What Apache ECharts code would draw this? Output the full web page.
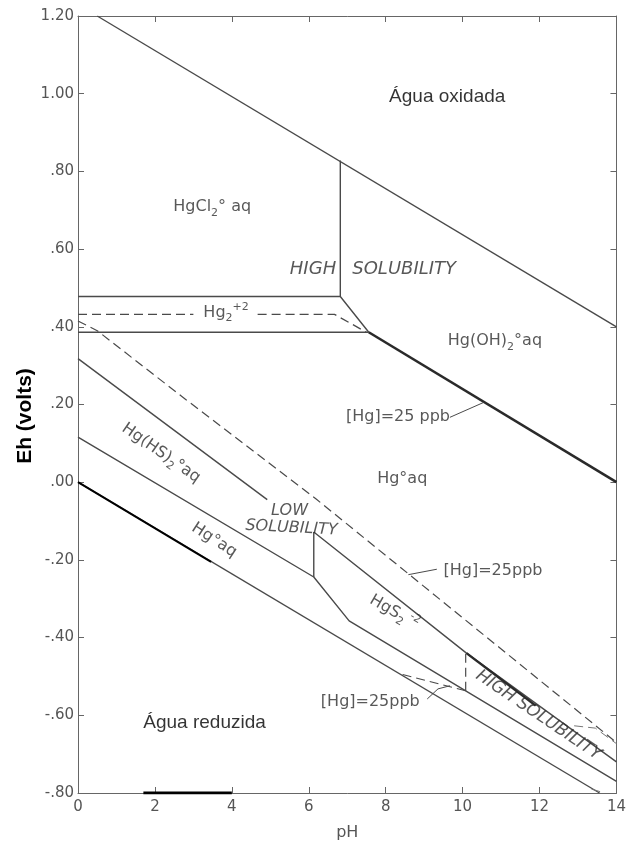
<!DOCTYPE html>
<html>
<head>
<meta charset="utf-8">
<title>Eh-pH Hg</title>
<script src="https://cdn.jsdelivr.net/npm/echarts@6/dist/echarts.min.js"></script>
<style>
  html, body { margin: 0; padding: 0; background: #fff; }
  #chart { width: 629px; height: 850px; }
</style>
</head>
<body>
<div id="chart"></div>
<script>
// eixos
const phTicks = [0, 2, 4, 6, 8, 10, 12, 14]
const ehTickLabels = ['-.80', '-.60', '-.40', '-.20', '.00', '.20', '.40', '.60', '.80', '1.00', '1.20']

// linhas [pH, Eh]
const aguaOxidada = [[0.5, 1.20], [14, 0.40]]
const aguaReduzida = [[0, 0.0], [13.56, -0.80]]
const aguaReduzidaPreta = [[0, 0.0], [3.46, -0.205]]
const barraPreta = [[1.7, -0.80], [4.0, -0.80]]
const verticalHgCl2 = [[6.82, 0.828], [6.82, 0.478]]
const limiteSuperior = [[0, 0.478], [6.82, 0.478], [7.56, 0.386]]
const limiteInferior = [[0, 0.386], [7.56, 0.386]]
const hg2Esq = [[0, 0.432], [3.0, 0.432]]
const hg2Dir = [[4.67, 0.432], [6.67, 0.432], [7.5, 0.386]]
const hgOH2 = [[7.56, 0.386], [14, 0.0]]
const ppbSupGuia = [[9.67, 0.167], [10.54, 0.205]]
const ppbMeio = [[0, 0.415], [0.5, 0.39], [2.8, 0.213], [6.2, -0.044], [14, -0.67]]
const ppbMeioGuia = [[8.59, -0.238], [9.33, -0.224]]
const hsEsq = [[0, 0.318], [4.92, -0.045]]
const hsDir = [[6.13, -0.128], [10.1, -0.44], [14, -0.72]]
const hsGrosso = [[10.1, -0.44], [11.9, -0.575]]
const vertical6 = [[6.13, -0.128], [6.13, -0.244]]
const hgS2Inf = [[0, 0.116], [6.13, -0.244], [7.05, -0.357], [14, -0.77]]
const ppbInf = [[8.44, -0.495], [10.08, -0.537]]
const ppbInfVert = [[10.08, -0.537], [10.08, -0.44]]
const ppbInfGuia = [[9.08, -0.558], [9.36, -0.532], [9.67, -0.524]]
const tracoDir = [[12.9, -0.627], [13.45, -0.633], [14, -0.673]]
const tracoCanto = [[13.35, -0.79], [13.7, -0.80]]

const LINE = '#4a4a4a'
const TEXT = '#2e2e2e'
const FONT = 'DejaVu Sans'

function linha(data, width, color, dashed) {
  return {
    type: 'line', data: data, symbol: 'none', silent: true, animation: false,
    lineStyle: { color: color || LINE, width: width || 1.4, type: dashed ? [9, 5] : 'solid' },
    z: 3
  }
}

const rich = {
  sub: { fontFamily: FONT, fontSize: 11, lineHeight: 12, verticalAlign: 'bottom', color: TEXT },
  sup: { fontFamily: FONT, fontSize: 11, lineHeight: 12, verticalAlign: 'top', color: TEXT }
}
function rotulo(pos, text, extra) {
  return {
    value: pos,
    label: Object.assign({
      show: true, position: 'inside', formatter: text,
      fontFamily: FONT, fontSize: 16, lineHeight: 22, color: TEXT, rich: rich
    }, extra || {})
  }
}
const caps = { fontStyle: 'italic', fontSize: 18 }
const preto = { fontFamily: 'Liberation Sans', fontSize: 19, color: '#000' }

const rotulos = [
  rotulo([9.6, 0.991], 'Água oxidada', preto),
  rotulo([3.29, -0.618], 'Água reduzida', preto),
  rotulo([3.49, 0.708], 'HgCl{sub|2}° aq'),
  rotulo([6.11, 0.548], 'HIGH', caps),
  rotulo([8.48, 0.548], 'SOLUBILITY', caps),
  rotulo([3.85, 0.437], 'Hg{sub|2}{sup|+2}'),
  rotulo([10.84, 0.363], 'Hg(OH){sub|2}°aq'),
  rotulo([8.32, 0.167], '[Hg]=25 ppb'),
  rotulo([8.43, 0.008], 'Hg°aq'),
  rotulo([10.79, -0.229], '[Hg]=25ppb'),
  rotulo([7.6, -0.566], '[Hg]=25ppb'),
  rotulo([5.5, -0.075], 'LOW', { fontStyle: 'italic', fontSize: 16 }),
  rotulo([5.55, -0.118], 'SOLUBILITY', { fontStyle: 'italic', fontSize: 16, rotate: -3 }),
  rotulo([8.22, -0.335], 'HgS{sub|2}{sup| -2}', { rotate: -30 }),
  rotulo([11.97, -0.6], 'HIGH SOLUBILITY', { fontStyle: 'italic', fontSize: 17, rotate: -34 }),
  rotulo([2.16, 0.075], 'Hg(HS){sub|2}°aq', { rotate: -35 }),
  rotulo([3.54, -0.149], 'Hg°aq', { rotate: -33 })
]

const myChart = echarts.init(document.getElementById('chart'))
const eixo = { show: true, onZero: false, lineStyle: { color: '#666', width: 1 } }
const tick = { show: true, inside: true, length: 6, lineStyle: { color: '#666' } }
const options = {
  backgroundColor: '#fff',
  animation: false,
  grid: { left: 78, right: 6, top: 16, bottom: 57 },
  xAxis: [{
    type: 'value', min: 0, max: 14, interval: 2,
    name: 'pH', nameLocation: 'middle', nameGap: 32,
    nameTextStyle: { fontFamily: FONT, fontSize: 16, color: '#555' },
    axisLine: eixo, splitLine: { show: false }, axisTick: tick,
    axisLabel: {
      margin: 7, fontFamily: FONT, fontSize: 15, color: '#555',
      formatter: v => phTicks.indexOf(v) >= 0 ? String(v) : ''
    }
  }, {
    type: 'value', min: 0, max: 14, interval: 2, position: 'top',
    axisLine: eixo, splitLine: { show: false }, axisLabel: { show: false }, axisTick: tick
  }],
  yAxis: [{
    type: 'value', min: -0.8, max: 1.2, interval: 0.2,
    axisLine: eixo, splitLine: { show: false }, axisTick: tick,
    axisLabel: {
      margin: 4, fontFamily: FONT, fontSize: 15, color: '#555',
      formatter: v => ehTickLabels[Math.round((v + 0.8) / 0.2)]
    }
  }, {
    type: 'value', min: -0.8, max: 1.2, interval: 0.2, position: 'right',
    axisLine: eixo, splitLine: { show: false }, axisLabel: { show: false }, axisTick: tick
  }],
  graphic: [{
    type: 'text', x: 25, y: 416, rotation: Math.PI / 2,
    style: {
      text: 'Eh (volts)', fill: '#000', font: 'bold 21px "Liberation Sans"',
      textAlign: 'center', textVerticalAlign: 'middle', align: 'center', verticalAlign: 'middle'
    }
  }],
  series: [
    linha(aguaOxidada),
    linha(aguaReduzida),
    linha(aguaReduzidaPreta, 2, '#000'),
    linha(barraPreta, 3, '#000'),
    linha(verticalHgCl2),
    linha(limiteSuperior),
    linha(limiteInferior),
    linha(hg2Esq, 1.3, LINE, true),
    linha(hg2Dir, 1.3, LINE, true),
    linha(hgOH2, 2.6, '#2a2a2a'),
    linha(ppbSupGuia, 1),
    linha(ppbMeio, 1.2, LINE, true),
    linha(ppbMeioGuia, 1),
    linha(hsEsq),
    linha(hsDir),
    linha(hsGrosso, 2.4, '#2a2a2a'),
    linha(vertical6),
    linha(hgS2Inf),
    linha(ppbInf, 1.2, LINE, true),
    linha(ppbInfVert, 1.2, LINE, true),
    linha(ppbInfGuia, 1),
    linha(tracoDir, 1, '#777', true),
    linha(tracoCanto, 1, '#777', true),
    {
      type: 'scatter', data: rotulos, symbolSize: 1, silent: true, animation: false,
      itemStyle: { color: 'rgba(0,0,0,0)' }, z: 5
    }
  ]
}
myChart.setOption(options)
window.onresize = myChart.resize
</script>
</body>
</html>
